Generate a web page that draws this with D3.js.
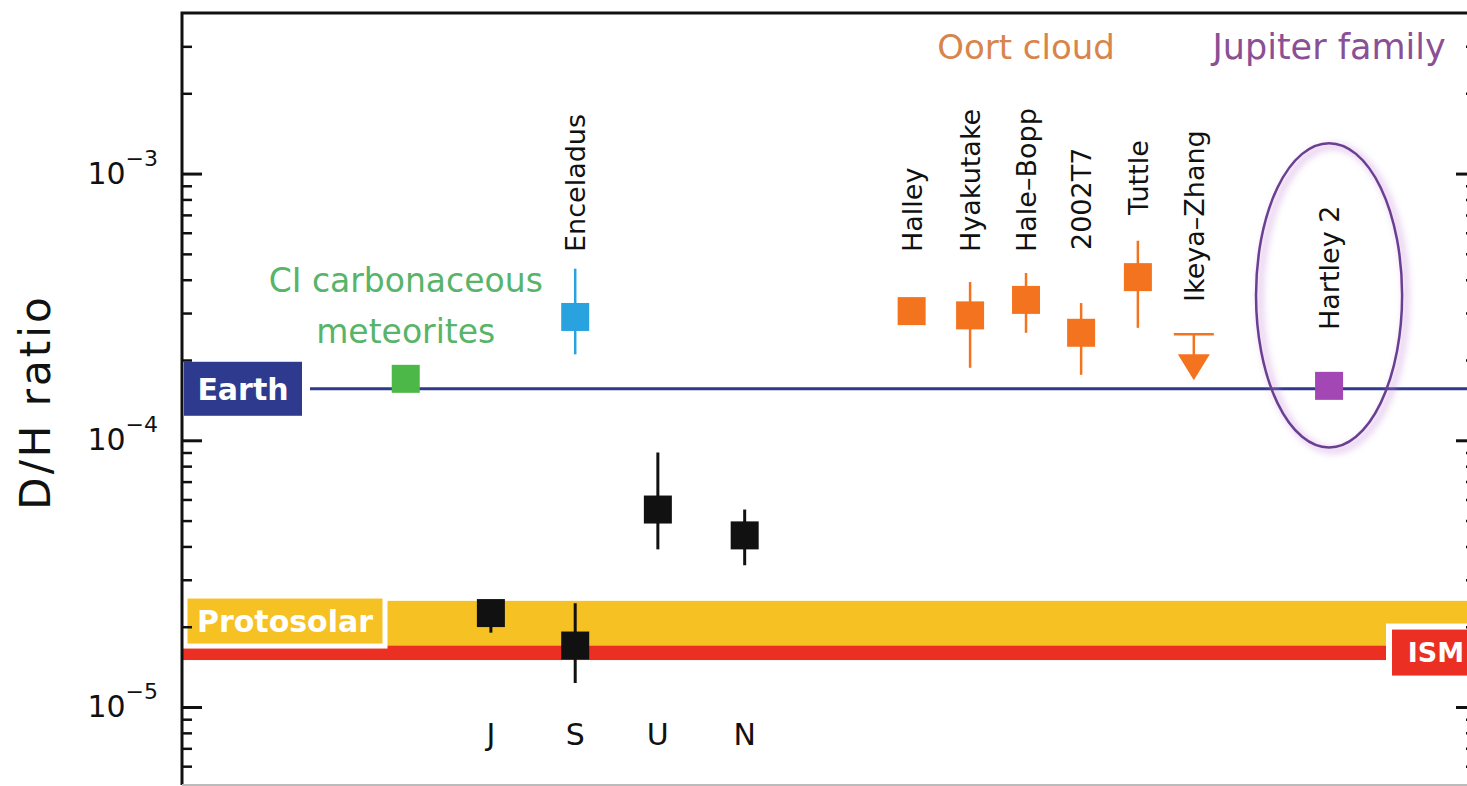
<!DOCTYPE html>
<html>
<head>
<meta charset="utf-8">
<script src="https://cdn.jsdelivr.net/npm/d3@7"></script>
<style>
  html, body { margin: 0; padding: 0; background: #fff; overflow: hidden; }
  svg { display: block; }
  text { font-family: "DejaVu Sans", "Liberation Sans", sans-serif; }
</style>
</head>
<body>
<svg id="chart" width="1467" height="786"></svg>
<script>
// ---- D/H ratio of water and hydrogen across the Solar System ----

// axes
const yDomain = [5.1e-6, 4e-3];
const xDomain = [0, 15.5];
const majorTicks = [1e-5, 1e-4, 1e-3];
const tickExponents = [-5, -4, -3];

// reference levels
const earthDH = 1.56e-4;
const protosolarRange = [1.7e-5, 2.5e-5];
const protosolarDH = 2.1e-5;
const ismRange = [1.5e-5, 1.7e-5];
const ismDH = 1.6e-5;

// CI carbonaceous meteorites
const meteoriteX = 2.68;
const meteoriteDH = 1.7e-4;

// giant planets
const planetNames = ["J", "S", "U", "N"];
const planetX = [3.70, 4.71, 5.70, 6.74];
const planetDH = [2.25e-5, 1.7e-5, 5.5e-5, 4.4e-5];
const planetLow = [1.9e-5, 1.23e-5, 3.9e-5, 3.4e-5];
const planetHigh = [2.45e-5, 2.45e-5, 9.0e-5, 5.5e-5];

// Enceladus plume
const enceladusX = 4.71;
const enceladusDH = 2.9e-4;
const enceladusLow = 2.1e-4;
const enceladusHigh = 4.4e-4;

// Oort cloud comets
const oortNames = ["Halley", "Hyakutake", "Hale–Bopp", "2002T7", "Tuttle"];
const oortX = [8.74, 9.44, 10.11, 10.77, 11.45];
const oortDH = [3.05e-4, 2.94e-4, 3.36e-4, 2.53e-4, 4.09e-4];
const oortLow = [2.95e-4, 1.87e-4, 2.53e-4, 1.76e-4, 2.64e-4];
const oortHigh = [3.15e-4, 3.92e-4, 4.24e-4, 3.27e-4, 5.6e-4];

// Ikeya–Zhang upper limit
const ikeyaName = "Ikeya–Zhang";
const ikeyaX = 12.12;
const ikeyaLimit = 2.5e-4;

// Jupiter-family comet
const hartleyName = "Hartley 2";
const hartleyX = 13.74;
const hartleyDH = 1.6e-4;
const hartleyLow = 1.52e-4;
const hartleyHigh = 1.68e-4;
const hartleyRing = [9.4e-5, 1.3e-3];   // vertical extent of the highlight ring
const hartleyRingHalfWidth = 0.875;     // in x units

// ---- layout ----
const plot = { left: 182, right: 1476, top: 13, bottom: 785 };
const colors = {
  axis: "#111",
  earth: "#2d3a8e",
  protosolar: "#f6c223",
  ism: "#ec2f23",
  meteorite: "#4cb848",
  meteoriteText: "#57b468",
  enceladus: "#29a3e0",
  oort: "#f4731f",
  oortText: "#d8844a",
  jupiter: "#a347b5",
  jupiterText: "#8a4f94",
  ring: "#6a3f92",
  planet: "#111"
};

const svg = d3.select("#chart");
const y = d3.scaleLog().domain(yDomain).range([plot.bottom, plot.top]);
const x = d3.scaleLinear().domain(xDomain).range([plot.left, plot.right]);

const defs = svg.append("defs");
const glow = defs.append("filter").attr("id", "ringGlow")
  .attr("x", "-30%").attr("y", "-30%").attr("width", "160%").attr("height", "160%");
glow.append("feGaussianBlur").attr("stdDeviation", 3.5);

// ---- bands ----
svg.append("rect")
  .attr("x", plot.left).attr("width", plot.right - plot.left)
  .attr("y", y(protosolarRange[1]))
  .attr("height", y(protosolarRange[0]) - y(protosolarRange[1]))
  .attr("fill", colors.protosolar);
svg.append("rect")
  .attr("x", plot.left).attr("width", plot.right - plot.left)
  .attr("y", y(ismRange[1]))
  .attr("height", y(ismRange[0]) - y(ismRange[1]))
  .attr("fill", colors.ism);

// ---- Earth ocean level ----
svg.append("line")
  .attr("x1", 310).attr("x2", plot.right)
  .attr("y1", y(earthDH)).attr("y2", y(earthDH))
  .attr("stroke", colors.earth).attr("stroke-width", 3);

// ---- level badges ----
function badge(cx, cy, w, h, fill, label, size, border) {
  const g = svg.append("g");
  g.append("rect")
    .attr("x", cx - w / 2).attr("y", cy - h / 2)
    .attr("width", w).attr("height", h)
    .attr("fill", fill)
    .attr("stroke", border ? "#fff" : "none")
    .attr("stroke-width", border || 0);
  g.append("text")
    .attr("x", cx).attr("y", cy + size * 0.36)
    .attr("text-anchor", "middle")
    .attr("font-size", size).attr("font-weight", "bold")
    .attr("fill", "#fff")
    .text(label);
}
badge(243, y(earthDH), 118, 54, colors.earth, "Earth", 30, 0);
badge(285, y(protosolarDH), 200, 50, colors.protosolar, "Protosolar", 30, 5);
badge(1436, y(ismDH), 94, 52, colors.ism, "ISM", 27, 6);

// ---- Hartley 2 highlight ring ----
const ringCy = (y(hartleyRing[0]) + y(hartleyRing[1])) / 2;
const ringRy = (y(hartleyRing[0]) - y(hartleyRing[1])) / 2;
const ringRx = x(hartleyX + hartleyRingHalfWidth) - x(hartleyX);
svg.append("ellipse")
  .attr("cx", x(hartleyX) + 4).attr("cy", ringCy + 3)
  .attr("rx", ringRx).attr("ry", ringRy)
  .attr("fill", "none").attr("stroke", "#c58ad8").attr("stroke-width", 6)
  .attr("opacity", 0.45).attr("filter", "url(#ringGlow)");
svg.append("ellipse")
  .attr("cx", x(hartleyX)).attr("cy", ringCy)
  .attr("rx", ringRx).attr("ry", ringRy)
  .attr("fill", "none").attr("stroke", colors.ring).attr("stroke-width", 2.5);

// ---- point helpers ----
function errorBar(cx, lo, hi, color, width) {
  svg.append("line")
    .attr("x1", cx).attr("x2", cx)
    .attr("y1", y(hi)).attr("y2", y(lo))
    .attr("stroke", color).attr("stroke-width", width);
}
function square(cx, v, color) {
  const s = 28;
  svg.append("rect")
    .attr("x", cx - s / 2).attr("y", y(v) - s / 2)
    .attr("width", s).attr("height", s)
    .attr("fill", color);
}
function verticalName(cx, footY, label, size) {
  svg.append("text")
    .attr("transform", `translate(${cx + size * 0.37},${footY}) rotate(-90)`)
    .attr("font-size", size).attr("fill", "#111")
    .text(label);
}

// CI meteorites
square(x(meteoriteX), meteoriteDH, colors.meteorite);
const ciText = svg.append("text")
  .attr("text-anchor", "middle").attr("font-size", 33)
  .attr("fill", colors.meteoriteText);
ciText.append("tspan").attr("x", x(meteoriteX)).attr("y", 292).text("CI carbonaceous");
ciText.append("tspan").attr("x", x(meteoriteX)).attr("y", 343).text("meteorites");

// giant planets
planetNames.forEach((n, i) => {
  errorBar(x(planetX[i]), planetLow[i], planetHigh[i], colors.planet, 3);
  square(x(planetX[i]), planetDH[i], colors.planet);
  svg.append("text")
    .attr("x", x(planetX[i])).attr("y", 745)
    .attr("text-anchor", "middle").attr("font-size", 30)
    .attr("fill", "#111").text(n);
});

// Enceladus
errorBar(x(enceladusX), enceladusLow, enceladusHigh, colors.enceladus, 2.5);
square(x(enceladusX), enceladusDH, colors.enceladus);
verticalName(x(enceladusX), 252, "Enceladus", 27);

// Oort cloud comets
const oortFoot = [252, 252, 252, 250, 215];
oortNames.forEach((n, i) => {
  errorBar(x(oortX[i]), oortLow[i], oortHigh[i], colors.oort, 2.5);
  square(x(oortX[i]), oortDH[i], colors.oort);
  verticalName(x(oortX[i]), oortFoot[i], n, 27);
});

// Ikeya–Zhang upper limit
{
  const cx = x(ikeyaX), cy = y(ikeyaLimit);
  svg.append("line").attr("x1", cx - 20).attr("x2", cx + 20)
    .attr("y1", cy).attr("y2", cy)
    .attr("stroke", colors.oort).attr("stroke-width", 2.5);
  svg.append("line").attr("x1", cx).attr("x2", cx)
    .attr("y1", cy).attr("y2", cy + 21)
    .attr("stroke", colors.oort).attr("stroke-width", 2.5);
  svg.append("path")
    .attr("d", `M${cx - 16},${cy + 20}L${cx + 16},${cy + 20}L${cx},${cy + 46}Z`)
    .attr("fill", colors.oort);
  verticalName(cx, 302, ikeyaName, 27);
}

// Hartley 2
errorBar(x(hartleyX), hartleyLow, hartleyHigh, colors.jupiter, 3);
square(x(hartleyX), hartleyDH, colors.jupiter);
verticalName(x(hartleyX), 330, hartleyName, 27);

// group titles
svg.append("text")
  .attr("x", x(oortX[2])).attr("y", 59)
  .attr("text-anchor", "middle").attr("font-size", 34)
  .attr("fill", colors.oortText).text("Oort cloud");
svg.append("text")
  .attr("x", x(hartleyX)).attr("y", 59)
  .attr("text-anchor", "middle").attr("font-size", 35)
  .attr("fill", colors.jupiterText).text("Jupiter family");

// ---- axes ----
const minorTicks = [];
for (let e = -6; e <= -3; e++) {
  for (let m = 2; m <= 9; m++) {
    const v = m * Math.pow(10, e);
    if (v > yDomain[0] && v < yDomain[1]) minorTicks.push(v);
  }
}

function styleAxis(g, width) {
  g.select(".domain").remove();
  g.selectAll(".tick line").attr("stroke", colors.axis).attr("stroke-width", width);
  g.selectAll(".tick text").remove();
}

svg.append("g").attr("transform", `translate(${plot.left},0)`)
  .call(d3.axisRight(y).tickValues(majorTicks).tickSize(20).tickFormat(""))
  .call(g => styleAxis(g, 3));
svg.append("g").attr("transform", `translate(${plot.left},0)`)
  .call(d3.axisRight(y).tickValues(minorTicks).tickSize(10).tickFormat(""))
  .call(g => styleAxis(g, 2.5));
svg.append("g").attr("transform", `translate(${plot.right},0)`)
  .call(d3.axisLeft(y).tickValues(majorTicks).tickSize(20).tickFormat(""))
  .call(g => styleAxis(g, 3));
svg.append("g").attr("transform", `translate(${plot.right},0)`)
  .call(d3.axisLeft(y).tickValues(minorTicks).tickSize(10).tickFormat(""))
  .call(g => styleAxis(g, 2.5));

// power-of-ten tick labels
majorTicks.forEach((v, i) => {
  const t = svg.append("text")
    .attr("x", 158).attr("y", y(v) + 10)
    .attr("text-anchor", "end").attr("fill", "#111");
  t.append("tspan").attr("font-size", 30).text("10");
  t.append("tspan").attr("font-size", 22).attr("dy", -18).text("−" + Math.abs(tickExponents[i]));
});

// frame
svg.append("path")
  .attr("d", `M${plot.left},${plot.bottom}V${plot.top}H${plot.right}V${plot.bottom}`)
  .attr("fill", "none").attr("stroke", colors.axis).attr("stroke-width", 3);
svg.append("line")
  .attr("x1", plot.left).attr("x2", plot.right)
  .attr("y1", plot.bottom).attr("y2", plot.bottom)
  .attr("stroke", "#bbb").attr("stroke-width", 2);

// y-axis title
svg.append("text")
  .attr("transform", `translate(50,${(plot.top + plot.bottom) / 2 + 3}) rotate(-90)`)
  .attr("text-anchor", "middle").attr("font-size", 42)
  .attr("letter-spacing", 3).attr("fill", "#111")
  .text("D/H ratio");
</script>
</body>
</html>
